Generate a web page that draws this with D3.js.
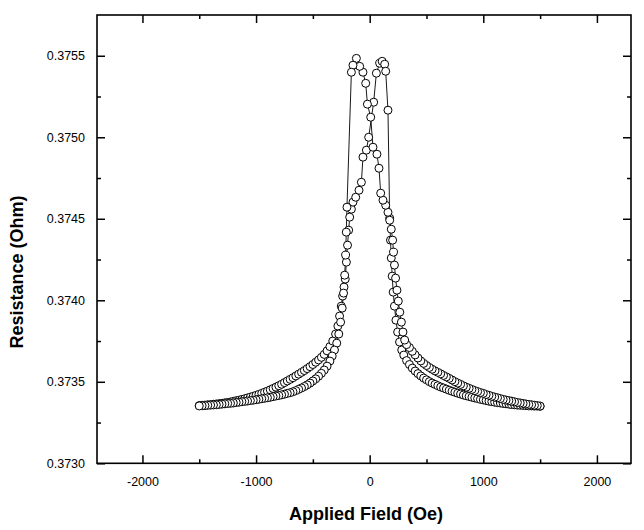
<!DOCTYPE html>
<html>
<head>
<meta charset="utf-8">
<script src="https://cdn.jsdelivr.net/npm/d3@7"></script>
<style>
  html, body { margin: 0; padding: 0; background: #fff; }
  svg { display: block; }
  text { font-family: "Liberation Sans", Arial, Helvetica, sans-serif; fill: #000; }
</style>
</head>
<body>
<svg id="chart" width="644" height="530"></svg>
<script>
// Increasing-field sweep (-1500 -> +1500 Oe)
const incField = [-1500,-1475,-1450,-1425,-1400,-1375,-1350,-1325,-1300,-1275,-1250,-1225,-1200,-1175,-1150,-1125,-1100,-1075,-1050,-1025,-1000,-975,-950,-925,-900,-875,-850,-825,-800,-775,-750,-725,-700,-675,-650,-625,-600,-575,-550,-525,-500,-475,-450,-425,-400,-375,-350,-325,-300,
  -280,-265,-250,-238,-226,-215,-205,-195,-185,-176,-161,-147,-123,-94,-73,-59,-29,-9,
  35,59,88,110,132,141,161,176,
  183,190,198,207,218,231,246,263,282,300,
  325,350,375,400,425,450,475,500,525,550,575,600,625,650,675,700,725,750,775,800,825,850,875,900,925,950,975,1000,1025,1050,1075,1100,1125,1150,1175,1200,1225,1250,1275,1300,1325,1350,1375,1400,1425,1450,1475,1500];
const incR = [0.373354,0.373356,0.373357,0.373359,0.373360,0.373362,0.373364,0.373366,0.373368,0.373371,0.373373,0.373376,0.373380,0.373384,0.373387,0.373392,0.373396,0.373401,0.373406,0.373411,0.373417,0.373423,0.373429,0.373436,0.373443,0.373451,0.373459,0.373467,0.373476,0.373485,0.373495,0.373505,0.373515,0.373525,0.373536,0.373547,0.373558,0.373569,0.373581,0.373593,0.373606,0.373620,0.373634,0.373650,0.373668,0.373690,0.373716,0.373750,0.373793,
  0.373842,0.373903,0.373964,0.374026,0.374081,0.374130,0.374234,0.374338,0.374430,0.374510,0.374559,0.374602,0.374632,0.374675,0.374724,0.374878,0.374921,0.375000,
  0.375215,0.375393,0.375454,0.375466,0.375448,0.375405,0.375166,0.374504,
  0.374369,0.374259,0.374148,0.374050,0.373964,0.373878,0.373805,0.373744,0.373695,0.373664,
  0.373630,0.373606,0.373584,0.373566,0.373550,0.373536,0.373523,0.373512,0.373501,0.373492,0.373484,0.373476,0.373468,0.373462,0.373455,0.373448,0.373442,0.373436,0.373430,0.373425,0.373419,0.373414,0.373410,0.373405,0.373401,0.373397,0.373392,0.373389,0.373385,0.373381,0.373378,0.373375,0.373372,0.373370,0.373367,0.373365,0.373363,0.373361,0.373359,0.373357,0.373356,0.373355,0.373354,0.373352,0.373352,0.373351,0.373351,0.373350];

// Decreasing-field sweep (+1500 -> -1500 Oe)
const decField = [1500,1475,1450,1425,1400,1375,1350,1325,1300,1275,1250,1225,1200,1175,1150,1125,1100,1075,1050,1025,1000,975,950,925,900,875,850,825,800,775,750,725,700,675,650,625,600,575,550,525,500,475,450,425,400,375,350,325,
  308,293,279,265,252,240,228,218,210,202,190,176,161,141,117,97,82,64,29,9,
  -20,-35,-59,-88,-117,-147,-161,
  -200,-206,-212,-220,-230,-242,-256,-272,-290,-310,-330,
  -350,-375,-400,-425,-450,-475,-500,-525,-550,-575,-600,-625,-650,-675,-700,-725,-750,-775,-800,-825,-850,-875,-900,-925,-950,-975,-1000,-1025,-1050,-1075,-1100,-1125,-1150,-1175,-1200,-1225,-1250,-1275,-1300,-1325,-1350,-1375,-1400,-1425,-1450,-1475,-1500];
const decR = [0.373351,0.373354,0.373356,0.373359,0.373361,0.373364,0.373367,0.373370,0.373373,0.373377,0.373381,0.373384,0.373388,0.373392,0.373397,0.373402,0.373406,0.373411,0.373417,0.373422,0.373429,0.373434,0.373440,0.373446,0.373453,0.373460,0.373467,0.373475,0.373484,0.373492,0.373501,0.373511,0.373521,0.373530,0.373539,0.373549,0.373558,0.373567,0.373577,0.373588,0.373600,0.373613,0.373628,0.373646,0.373665,0.373687,0.373710,0.373728,
  0.373756,0.373805,0.373866,0.373927,0.373995,0.374062,0.374136,0.374216,0.374295,0.374369,0.374436,0.374491,0.374540,0.374583,0.374614,0.374657,0.374810,0.374896,0.374939,0.375123,
  0.375203,0.375331,0.375399,0.375435,0.375484,0.375442,0.375399,
  0.374571,0.374418,0.374277,0.374154,0.374044,0.373952,0.373866,0.373793,0.373737,0.373695,0.373658,
  0.373627,0.373596,0.373572,0.373552,0.373534,0.373518,0.373505,0.373492,0.373481,0.373471,0.373462,0.373454,0.373446,0.373439,0.373433,0.373429,0.373424,0.373420,0.373416,0.373413,0.373409,0.373405,0.373402,0.373399,0.373396,0.373393,0.373390,0.373387,0.373385,0.373382,0.373380,0.373378,0.373375,0.373373,0.373370,0.373368,0.373367,0.373365,0.373363,0.373361,0.373359,0.373358,0.373357,0.373356,0.373354,0.373353,0.373352];

const xMajorTicks = [-2000,-1000,0,1000,2000];
const xMinorTicks = [-1500,-500,500,1500];
const yMajorTicks = [0.3730,0.3735,0.3740,0.3745,0.3750,0.3755];
const yMinorTicks = [0.37325,0.37375,0.37425,0.37475,0.37525];
const xTitle = "Applied Field (Oe)";
const yTitle = "Resistance (Ohm)";

const svg = d3.select("#chart");
const L = 97, R = 631, T = 15, B = 463.3;

const x = d3.scaleLinear().domain([-2400, 2300]).range([L, R]);
const y = d3.scaleLinear().domain([0.3730, 0.37575]).range([B, T]);

const inc = incField.map((f, i) => ({f, r: incR[i]}));
const dec = decField.map((f, i) => ({f, r: decR[i]}));

// axes (ticks inward, on all four sides)
const fmtX = d => String(d);          // plain hyphen-minus like the original
const fmtY = d => d.toFixed(4);
svg.append("g").attr("transform", `translate(0,${B})`)
  .call(d3.axisBottom(x).tickValues(xMajorTicks).tickSize(-8).tickPadding(14).tickFormat(fmtX));
svg.append("g").attr("transform", `translate(0,${B})`)
  .call(d3.axisBottom(x).tickValues(xMinorTicks).tickSize(-4).tickFormat(""));
svg.append("g").attr("transform", `translate(0,${T})`)
  .call(d3.axisTop(x).tickValues(xMajorTicks).tickSize(-8).tickFormat(""));
svg.append("g").attr("transform", `translate(0,${T})`)
  .call(d3.axisTop(x).tickValues(xMinorTicks).tickSize(-4).tickFormat(""));
svg.append("g").attr("transform", `translate(${L},0)`)
  .call(d3.axisLeft(y).tickValues(yMajorTicks).tickSize(-8).tickPadding(12).tickFormat(fmtY));
svg.append("g").attr("transform", `translate(${L},0)`)
  .call(d3.axisLeft(y).tickValues(yMinorTicks).tickSize(-4).tickFormat(""));
svg.append("g").attr("transform", `translate(${R},0)`)
  .call(d3.axisRight(y).tickValues(yMajorTicks).tickSize(-8).tickFormat(""));
svg.append("g").attr("transform", `translate(${R},0)`)
  .call(d3.axisRight(y).tickValues(yMinorTicks).tickSize(-4).tickFormat(""));

svg.selectAll(".domain").remove();
svg.selectAll(".tick line").attr("stroke", "#000").attr("stroke-width", 1.5);
svg.selectAll(".tick text").attr("font-size", 12.5).attr("font-family", '"Liberation Sans", Arial, sans-serif').attr("fill", "#000");

// frame
svg.append("rect").attr("x", L).attr("y", T).attr("width", R - L).attr("height", B - T)
  .attr("fill", "none").attr("stroke", "#000").attr("stroke-width", 1.6);

// data lines
const line = d3.line().x(d => x(d.f)).y(d => y(d.r));
[inc, dec].forEach(s => {
  svg.append("path").datum(s).attr("d", line)
    .attr("fill", "none").attr("stroke", "#000").attr("stroke-width", 0.9);
});
// data points
[inc, dec].forEach(s => {
  svg.append("g").selectAll("circle").data(s).join("circle")
    .attr("cx", d => x(d.f)).attr("cy", d => y(d.r)).attr("r", 4)
    .attr("fill", "#fff").attr("stroke", "#000").attr("stroke-width", 1);
});

// titles
svg.append("text").attr("x", 366).attr("y", 520).attr("text-anchor", "middle")
  .attr("font-size", 18).attr("font-weight", "bold").text(xTitle);
svg.append("text").attr("transform", `translate(23,272) rotate(-90)`)
  .attr("text-anchor", "middle").attr("font-size", 18).attr("font-weight", "bold").text(yTitle);
</script>
</body>
</html>
